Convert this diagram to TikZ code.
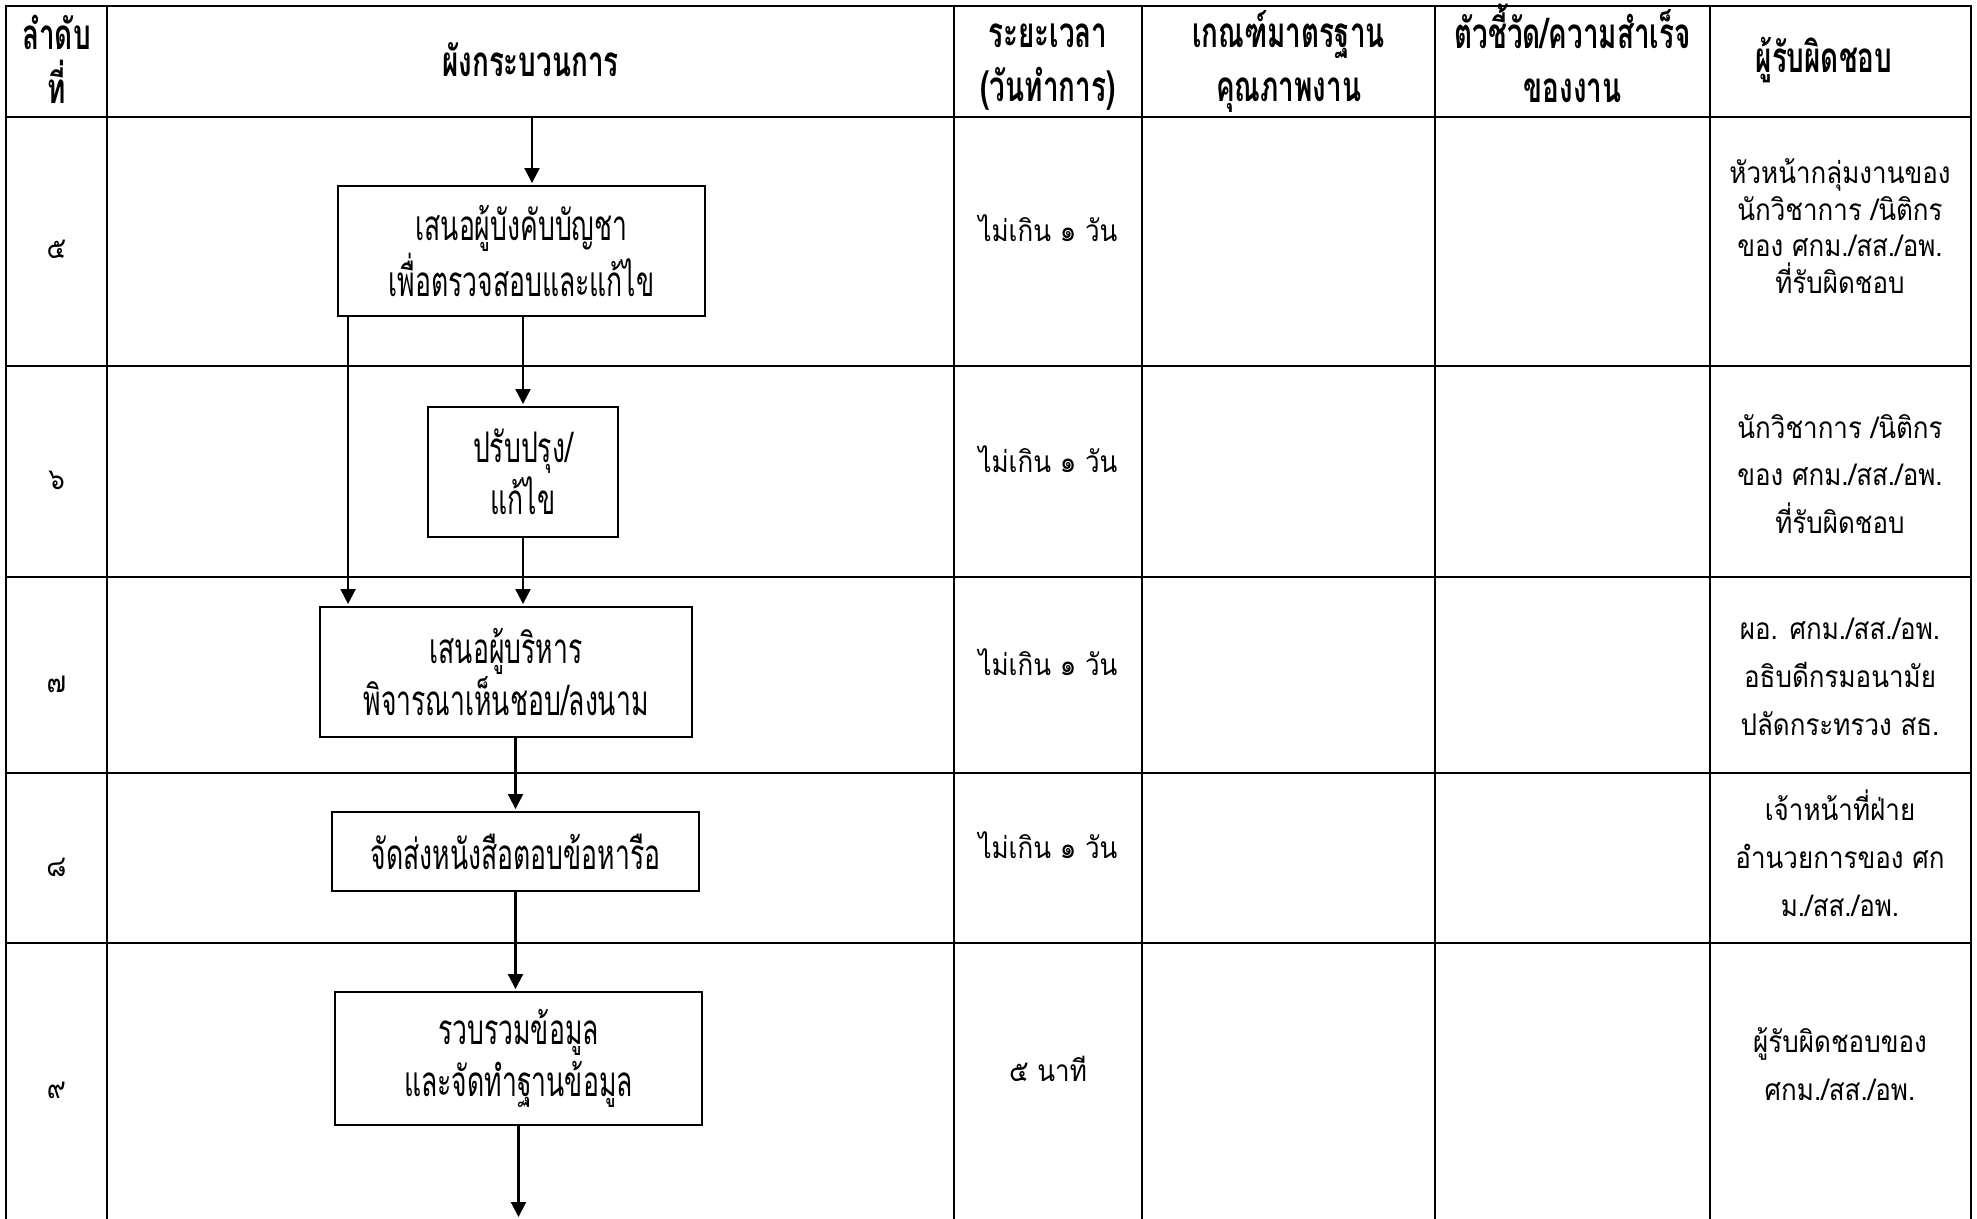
\documentclass[tikz,border=0pt]{standalone}
\usepackage{fontspec}
\newfontfamily\thaifont[Script=Thai,FakeStretch=0.87]{Loma}
\newfontfamily\thaicond[Script=Thai,FakeStretch=0.63]{Loma}
\newfontfamily\thaihead[Script=Thai,FakeStretch=0.66]{Loma}
\usepackage{tikz}
\usetikzlibrary{arrows.meta,calc}
\tikzset{
  tabline/.style={black, line width=1.4pt, line cap=rect},
  proc/.style={draw, line width=1.1pt, align=center, inner sep=0pt, font=\thaicond\fontsize{24}{29.5}\selectfont},
  head/.style={align=center, font=\thaihead\bfseries\fontsize{24}{30.7}\selectfont},
  cell/.style={align=center, font=\thaifont\fontsize{17}{20.8}\selectfont},
  widecell/.style={cell, font=\thaifont\fontsize{17}{27.2}\selectfont},
  arr/.style={-{Triangle[width=0.3cm,length=0.3cm]}, line width=1.2pt, shorten >=0.04cm}
}

\begin{document}
\begin{tikzpicture}[x=0.02cm, y=-0.02cm]
\useasboundingbox (0,0) rectangle (1977,1219);
\draw[tabline] (6,6) -- (1971,6);
\draw[tabline] (6,117) -- (1971,117);
\draw[tabline] (6,366) -- (1971,366);
\draw[tabline] (6,577) -- (1971,577);
\draw[tabline] (6,773) -- (1971,773);
\draw[tabline] (6,943) -- (1971,943);
\draw[tabline] (6,6) -- (6,1219);
\draw[tabline] (107,6) -- (107,1219);
\draw[tabline] (954,6) -- (954,1219);
\draw[tabline] (1142,6) -- (1142,1219);
\draw[tabline] (1435,6) -- (1435,1219);
\draw[tabline] (1710,6) -- (1710,1219);
\draw[tabline] (1971,6) -- (1971,1219);
\node[head] (h1) at (56.5,59) {ลำดับ\\ที่};
\node[head] (h2) at (530.5,60) {ผังกระบวนการ};
\node[head] (h3) at (1048,67.5) {ระยะเวลา\\(วันทำการ)};
\node[head] (h4) at (1288.5,61.5) {เกณฑ์มาตรฐาน\\คุณภาพงาน};
\node[head] (h5) at (1572.5,53.5) {ตัวชี้วัด/ความสำเร็จ\\ของงาน};
\node[head] (h6) at (1824,60) {ผู้รับผิดชอบ};
\node[cell] (k5) at (56.5,249) {๕};
\node[cell] (k6) at (56.5,480) {๖};
\node[cell] (k7) at (56.5,684) {๗};
\node[cell] (k8) at (56.5,867) {๘};
\node[cell] (k9) at (56.5,1090) {๙};
\node[cell] (t5) at (1048,228) {ไม่เกิน ๑ วัน};
\node[cell] (t6) at (1048,459) {ไม่เกิน ๑ วัน};
\node[cell] (t7) at (1048,662) {ไม่เกิน ๑ วัน};
\node[cell] (t8) at (1048,845) {ไม่เกิน ๑ วัน};
\node[cell] (t9) at (1048,1069) {๕ นาที};
\node[cell] (p5) at (1840,226) {หัวหน้ากลุ่มงานของ\\นักวิชาการ /นิติกร\\ของ ศกม./สส./อพ.\\ที่รับผิดชอบ};
\node[widecell] (p6) at (1840,474) {นักวิชาการ /นิติกร\\ของ ศกม./สส./อพ.\\ที่รับผิดชอบ};
\node[widecell] (p7) at (1840,677) {ผอ. ศกม./สส./อพ.\\อธิบดีกรมอนามัย\\ปลัดกระทรวง สธ.};
\node[widecell] (p8) at (1840,853) {เจ้าหน้าที่ฝ่าย\\อำนวยการของ ศก\\ม./สส./อพ.};
\node[widecell] (p9) at (1840,1064) {ผู้รับผิดชอบของ\\ศกม./สส./อพ.};
\node[proc, minimum width=7.34cm, minimum height=2.6cm] (n5) at (521.5,251) {เสนอผู้บังคับบัญชา\\เพื่อตรวจสอบและแก้ไข};
\node[proc, minimum width=3.8cm, minimum height=2.6cm] (n6) at (523,472) {ปรับปรุง/\\แก้ไข};
\node[proc, minimum width=7.44cm, minimum height=2.6cm] (n7) at (506,672) {เสนอผู้บริหาร\\พิจารณาเห็นชอบ/ลงนาม};
\node[proc, minimum width=7.34cm, minimum height=1.58cm] (n8) at (515.5,851.5) {จัดส่งหนังสือตอบข้อหารือ};
\node[proc, minimum width=7.34cm, minimum height=2.66cm] (n9) at (518.5,1058.5) {รวบรวมข้อมูล\\และจัดทำฐานข้อมูล};
\coordinate (in5) at (532,117);
\coordinate (out9) at (518.5,1219);
\draw[arr] (in5) -- (in5 |- n5.north);
\draw[arr] (n6.north |- n5.south) -- (n6.north);
\draw[arr] ($(n5.south west)+(11,0)$) -- ($(n5.south west |- n7.north)+(11,0)$);
\draw[arr] (n6.south) -- (n6.south |- n7.north);
\draw[arr] (n8.north |- n7.south) -- (n8.north);
\draw[arr] (n8.south) -- (n8.south |- n9.north);
\draw[arr] (n9.south) -- (out9);
\end{tikzpicture}
\end{document}
